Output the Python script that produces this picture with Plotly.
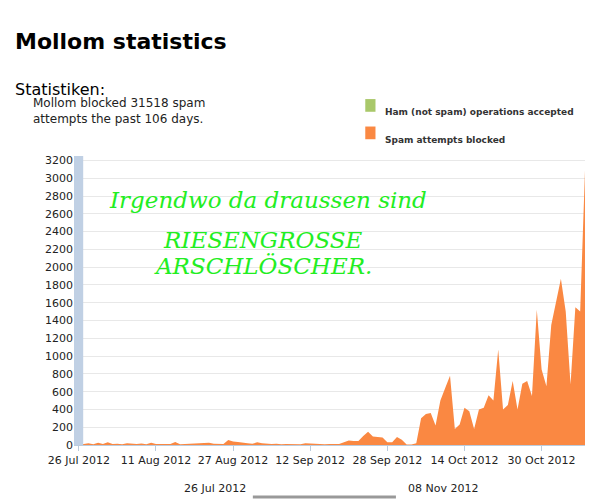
import datetime
import plotly.graph_objects as go

start = datetime.date(2012, 7, 26)
dates = [start + datetime.timedelta(days=i) for i in range(106)]

spam = [15,10,20,8,25,12,30,10,15,8,20,12,10,18,8,25,10,12,15,10,35,8,12,15,10,20,18,25,15,12,10,55,40,35,25,20,15,30,20,12,10,15,8,12,10,15,8,20,
        15,10,12,8,10,8,10,30,50,45,45,100,150,95,90,85,30,30,90,60,5,5,20,
        300,350,360,220,500,640,780,180,230,420,380,180,400,420,560,500,1075,400,450,720,400,690,720,550,1520,850,660,1350,1600,1870,1500,680,1550,1500,3090]
ham = [0] * 106

tick_dates = [start + datetime.timedelta(days=16 * i) for i in range(7)]
tick_text = [d.strftime("%-d %b %Y") for d in tick_dates]

legend_names = ["Ham (not spam) operations accepted", "Spam attempts blocked"]
legend_colors = ["#a9c86a", "#fa8842"]

fig = go.Figure()
fig.add_trace(go.Scatter(x=dates, y=ham, name=legend_names[0],
                         mode="lines", fill="tozeroy", line=dict(color=legend_colors[0], width=0),
                         fillcolor=legend_colors[0]))
fig.add_trace(go.Scatter(x=dates, y=spam, name=legend_names[1],
                         mode="lines", fill="tozeroy", line=dict(color=legend_colors[1], width=0),
                         fillcolor=legend_colors[1]))

font = "DejaVu Sans"
fig.update_layout(
    width=600, height=504, plot_bgcolor="white", paper_bgcolor="white",
    margin=dict(l=66, r=23, t=148, b=67),
    font=dict(family=font, size=11, color="#222"),
    showlegend=False,
    xaxis=dict(range=[start - datetime.timedelta(days=1), dates[-1]], tickvals=tick_dates, ticktext=tick_text,
               showgrid=False, ticks="outside", ticklen=5, tickcolor="#bcd", linecolor="#bcd",
               showline=True, tickfont=dict(size=11, color="#222"), automargin=False),
    yaxis=dict(range=[0, 3250], dtick=200, gridcolor="#e8e8e8", showline=False, zeroline=False,
               tickfont=dict(size=11, color="#222"), automargin=False),
)
fig.add_shape(type="rect", xref="paper", yref="paper", x0=0, x1=0.018, y0=0, y1=1,
              fillcolor="#c0d0e4", line=dict(width=0))

# legend drawn by hand (top right)
for i, (nm, col) in enumerate(zip(legend_names, legend_colors)):
    yy = 1.175 - i * 0.095
    fig.add_shape(type="rect", xref="paper", yref="paper", x0=0.57, x1=0.59, y0=yy - 0.022, y1=yy + 0.022,
                  fillcolor=col, line=dict(width=0))
    fig.add_annotation(text="<b>" + nm + "</b>", xref="paper", yref="paper", x=0.605, y=yy, xanchor="left",
                       showarrow=False, font=dict(size=9, color="#333"))

fig.add_annotation(text="<b>Mollom statistics</b>", xref="paper", yref="paper", x=-0.12, y=1.445,
                   xanchor="left", showarrow=False, font=dict(size=22, color="black"))
fig.add_annotation(text="Statistiken:", xref="paper", yref="paper", x=-0.12, y=1.27,
                   xanchor="left", showarrow=False, font=dict(size=16, color="black"))
fig.add_annotation(text="Mollom blocked 31518 spam<br>attempts the past 106 days.", xref="paper", yref="paper",
                   x=-0.085, y=1.215, xanchor="left", yanchor="top", align="left", showarrow=False,
                   font=dict(size=12, color="#222"))
green = dict(family="URW Chancery L, Z003, DejaVu Serif", size=23, color="#22ee22")
for txt, xx, yy in [("<i>Irgendwo da draussen sind</i>", 0.38, 0.90),
                    ("<i>RIESENGROSSE</i>", 0.37, 0.76),
                    ("<i>ARSCHLÖSCHER.</i>", 0.37, 0.62)]:
    fig.add_annotation(text=txt, xref="paper", yref="paper", x=xx, y=yy, showarrow=False, font=green)

fig.add_annotation(text="26 Jul 2012", xref="paper", yref="paper", x=0.34, y=-0.18, showarrow=False,
                   xanchor="right", font=dict(size=11))
fig.add_annotation(text="08 Nov 2012", xref="paper", yref="paper", x=0.65, y=-0.18, showarrow=False,
                   xanchor="left", font=dict(size=11))
fig.add_shape(type="line", xref="paper", yref="paper", x0=0.35, x1=0.63, y0=-0.18, y1=-0.18,
              line=dict(color="#999", width=3))

fig.write_html("out.html")
